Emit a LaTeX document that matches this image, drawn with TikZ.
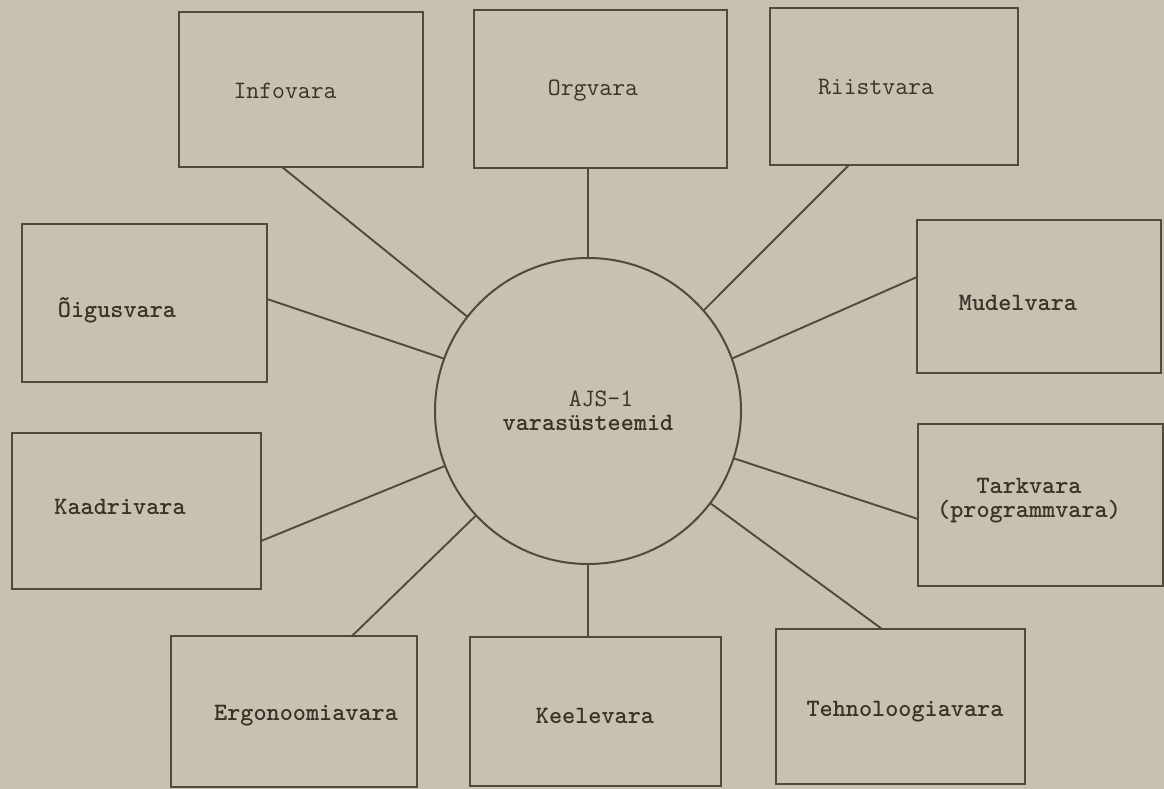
\documentclass[tikz,border=0pt]{standalone}
\usepackage{fontspec}
\usetikzlibrary{calc}
\definecolor{paper}{RGB}{201,193,176}
\definecolor{ink}{RGB}{82,72,60}
\definecolor{txt}{RGB}{58,49,40}
\begin{document}
\begin{tikzpicture}[x=1pt,y=-1pt,
  box/.style={draw=ink, line width=2.2pt, inner sep=0pt, outer sep=0pt},
  lbl/.style={font=\ttfamily\fontsize{25}{24}\selectfont, text=txt, inner sep=0pt, align=center},
  lblb/.style={lbl, font=\ttfamily\bfseries\fontsize{25}{24}\selectfont},
  conn/.style={draw=ink, line width=1.9pt},
  hub/.style={draw=ink, line width=2pt, circle, minimum size=306pt, inner sep=0pt, outer sep=0pt}]
\fill[paper] (0,0) rectangle (1164,789);
\useasboundingbox (0,0) rectangle (1164,789);

% boxes
\node[box, minimum width=244pt, minimum height=155pt] (info)  at (301,89.5) {};
\node[box, minimum width=253pt, minimum height=158pt] (org)   at (600.5,89) {};
\node[box, minimum width=248pt, minimum height=157pt] (riist) at (894,86.5) {};
\node[box, minimum width=245pt, minimum height=158pt] (oig)   at (144.5,303) {};
\node[box, minimum width=244pt, minimum height=153pt] (mud)   at (1039,296.5) {};
\node[box, minimum width=249pt, minimum height=156pt] (kaad)  at (136.5,511) {};
\node[box, minimum width=245pt, minimum height=162pt] (tark)  at (1040.5,505) {};
\node[box, minimum width=246pt, minimum height=151pt] (ergo)  at (294,711.5) {};
\node[box, minimum width=251pt, minimum height=149pt] (keel)  at (595.5,711.5) {};
\node[box, minimum width=249pt, minimum height=155pt] (tehno) at (900.5,706.5) {};

% labels
\node[lbl]  (tinfo)  at (285,91)  {Infovara};
\node[lbl]  (torg)   at (593,91)  {Orgvara};
\node[lbl]  (triist) at (876,87)  {Riistvara};
\node[lblb] (toig)   at (117,310) {Õigusvara};
\node[lblb] (tmud)   at (1018,303) {Mudelvara};
\node[lblb] (ttark)  at (1029,501) {Tarkvara\\(programmvara)};
\node[lblb] (tkaad)  at (120,507) {Kaadrivara};
\node[lblb] (tergo)  at (306,716) {Ergonoomiavara};
\node[lblb] (tkeel)  at (595,716) {Keelevara};
\node[lblb] (ttehno) at (905,712) {Tehnoloogiavara};

% hub
\node[hub, lbl] (c) at (588,411) {\hspace*{26pt}AJS-1\\\bfseries varasüsteemid};

% connectors
\draw[conn] ([xshift=103pt]info.south west) -- (c.142.4);
\draw[conn] (c.north) -- (c.north |- org.south);
\draw[conn] ([xshift=79pt]riist.south west) -- (c.41.6);
\draw[conn] ([yshift=-75pt]oig.north east) -- (c.160.5);
\draw[conn] ([yshift=-57pt]mud.north west) -- (c.20.6);
\draw[conn] ([yshift=-108pt]kaad.north east) -- (c.201.9);
\draw[conn] ([yshift=-95pt]tark.north west) -- (c.-18.9);
\draw[conn] ([xshift=181pt]ergo.north west) -- (c.223.7);
\draw[conn] (c.south) -- (c.south |- keel.north);
\draw[conn] ([xshift=106pt]tehno.north west) -- (c.-37.1);
\end{tikzpicture}
\end{document}
